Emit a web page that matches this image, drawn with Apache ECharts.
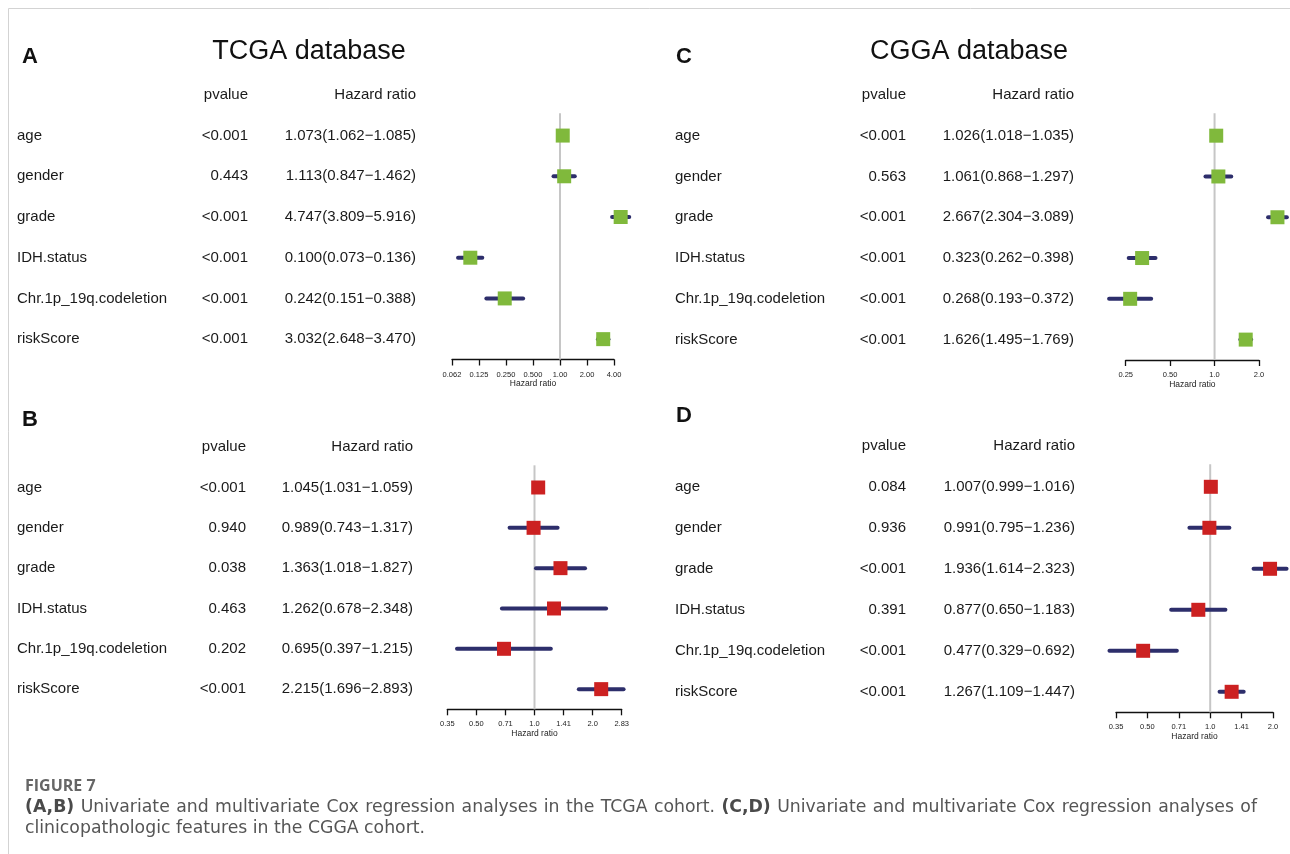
<!DOCTYPE html>
<html>
<head>
<meta charset="utf-8">
<script src="https://cdn.jsdelivr.net/npm/echarts@6/dist/echarts.min.js"></script>
<style>
html,body{margin:0;padding:0;background:#fff;}
#c{width:1290px;height:854px;}
</style>
</head>
<body>
<div id="c"></div>
<script>
// ---------- DATA ----------
const varNames = ['age', 'gender', 'grade', 'IDH.status', 'Chr.1p_19q.codeletion', 'riskScore'];

// A: TCGA univariate
const tcgaUniP    = ['<0.001', '0.443', '<0.001', '<0.001', '<0.001', '<0.001'];
const tcgaUniHR   = [1.073, 1.113, 4.747, 0.100, 0.242, 3.032];
const tcgaUniLow  = [1.062, 0.847, 3.809, 0.073, 0.151, 2.648];
const tcgaUniHigh = [1.085, 1.462, 5.916, 0.136, 0.388, 3.470];
const tcgaUniTicks = [0.0625, 0.125, 0.25, 0.5, 1, 2, 4];
const tcgaUniTickLabels = ['0.062', '0.125', '0.250', '0.500', '1.00', '2.00', '4.00'];

// B: TCGA multivariate
const tcgaMultiP    = ['<0.001', '0.940', '0.038', '0.463', '0.202', '<0.001'];
const tcgaMultiHR   = [1.045, 0.989, 1.363, 1.262, 0.695, 2.215];
const tcgaMultiLow  = [1.031, 0.743, 1.018, 0.678, 0.397, 1.696];
const tcgaMultiHigh = [1.059, 1.317, 1.827, 2.348, 1.215, 2.893];
const tcgaMultiTicks = [0.35355, 0.5, 0.70711, 1, 1.41421, 2, 2.82843];
const tcgaMultiTickLabels = ['0.35', '0.50', '0.71', '1.0', '1.41', '2.0', '2.83'];

// C: CGGA univariate
const cggaUniP    = ['<0.001', '0.563', '<0.001', '<0.001', '<0.001', '<0.001'];
const cggaUniHR   = [1.026, 1.061, 2.667, 0.323, 0.268, 1.626];
const cggaUniLow  = [1.018, 0.868, 2.304, 0.262, 0.193, 1.495];
const cggaUniHigh = [1.035, 1.297, 3.089, 0.398, 0.372, 1.769];
const cggaUniTicks = [0.25, 0.5, 1, 2];
const cggaUniTickLabels = ['0.25', '0.50', '1.0', '2.0'];

// D: CGGA multivariate
const cggaMultiP    = ['0.084', '0.936', '<0.001', '0.391', '<0.001', '<0.001'];
const cggaMultiHR   = [1.007, 0.991, 1.936, 0.877, 0.477, 1.267];
const cggaMultiLow  = [0.999, 0.795, 1.614, 0.650, 0.329, 1.109];
const cggaMultiHigh = [1.016, 1.236, 2.323, 1.183, 0.692, 1.447];
const cggaMultiTicks = [0.35355, 0.5, 0.70711, 1, 1.41421, 2];
const cggaMultiTickLabels = ['0.35', '0.50', '0.71', '1.0', '1.41', '2.0'];

const panelLetters = ['A', 'B', 'C', 'D'];
const panelTitles = ['TCGA database', 'CGGA database'];
const headerP = 'pvalue';
const headerHR = 'Hazard ratio';
const axisName = 'Hazard ratio';
const figureLabel = 'FIGURE 7';
const captionLine1 = ['(A,B)', 'Univariate', 'and', 'multivariate', 'Cox', 'regression', 'analyses', 'in', 'the', 'TCGA', 'cohort.', '(C,D)', 'Univariate', 'and', 'multivariate', 'Cox', 'regression', 'analyses', 'of'];
const captionBoldWords = ['(A,B)', '(C,D)'];
const captionLine2 = 'clinicopathologic features in the CGGA cohort.';

// ---------- STYLE / LAYOUT ----------
const FONT = '"Liberation Sans", Arial, sans-serif';
const CAPFONT = '"DejaVu Sans", sans-serif';
const CAPSIZE = 17.3;
const GREEN = '#80b93c';
const RED = '#cc2121';
const NAVY = '#2d2e6b';
const REFC = '#c6c6c6';

const panels = [
  { hr: tcgaUniHR, low: tcgaUniLow, high: tcgaUniHigh, p: tcgaUniP, ticks: tcgaUniTicks, tickLabels: tcgaUniTickLabels, color: GREEN,
    grid: { left: 452, top: 74.5, width: 162, height: 285 }, mName: 435, mP: 204, mHR: 36 },
  { hr: tcgaMultiHR, low: tcgaMultiLow, high: tcgaMultiHigh, p: tcgaMultiP, ticks: tcgaMultiTicks, tickLabels: tcgaMultiTickLabels, color: RED,
    grid: { left: 447.3, top: 427, width: 174.4, height: 282.3 }, mName: 430.3, mP: 201.3, mHR: 34.3 },
  { hr: cggaUniHR, low: cggaUniLow, high: cggaUniHigh, p: cggaUniP, ticks: cggaUniTicks, tickLabels: cggaUniTickLabels, color: GREEN,
    grid: { left: 1125.7, top: 74.5, width: 133.3, height: 285.5 }, mName: 450.7, mP: 219.7, mHR: 51.7 },
  { hr: cggaMultiHR, low: cggaMultiLow, high: cggaMultiHigh, p: cggaMultiP, ticks: cggaMultiTicks, tickLabels: cggaMultiTickLabels, color: RED,
    grid: { left: 1116, top: 425.3, width: 157, height: 287 }, mName: 441, mP: 210, mHR: 41 }
];

const cats = [''].concat(varNames);
const fmt3 = v => v.toFixed(3);

const grids = [], xAxes = [], yAxes = [], series = [];

panels.forEach((pn, i) => {
  grids.push(Object.assign({ containLabel: false, outerBoundsMode: 'none' }, pn.grid));
  const lbl = v => {
    const k = pn.ticks.findIndex(t => Math.abs(t - v) / t < 1e-3);
    return k >= 0 ? pn.tickLabels[k] : '';
  };
  xAxes.push({
    gridIndex: i, type: 'log', logBase: 2,
    min: pn.ticks[0], max: pn.ticks[pn.ticks.length - 1],
    axisLine: { show: true, onZero: false, lineStyle: { color: '#111', width: 1.3 } },
    axisTick: { show: true, customValues: pn.ticks, length: 6, lineStyle: { color: '#111', width: 1.3 } },
    minorTick: { show: false },
    axisLabel: { customValues: pn.ticks, formatter: lbl, fontSize: 7.5, margin: 11, color: '#222', fontFamily: FONT, hideOverlap: false },
    splitLine: { show: false },
    name: axisName, nameLocation: 'middle', nameGap: 20,
    nameTextStyle: { fontSize: 8.5, color: '#222', fontFamily: FONT }
  });
  const yBase = { gridIndex: i, type: 'category', data: cats, inverse: true, position: 'left', offset: 0,
    axisLine: { show: false }, axisTick: { show: false }, splitLine: { show: false } };
  const lblStyle = { fontSize: 15, color: '#1a1a1a', fontFamily: FONT, interval: 0, hideOverlap: false };
  yAxes.push(Object.assign({}, yBase, {
    axisLabel: Object.assign({}, lblStyle, { margin: pn.mName, align: 'left', formatter: v => v })
  }));
  yAxes.push(Object.assign({}, yBase, {
    axisLabel: Object.assign({}, lblStyle, { margin: pn.mP, align: 'right',
      formatter: (v, idx) => idx === 0 ? headerP : pn.p[idx - 1] })
  }));
  yAxes.push(Object.assign({}, yBase, {
    axisLabel: Object.assign({}, lblStyle, { margin: pn.mHR, align: 'right',
      formatter: (v, idx) => idx === 0 ? headerHR : fmt3(pn.hr[idx - 1]) + '(' + fmt3(pn.low[idx - 1]) + '\u2212' + fmt3(pn.high[idx - 1]) + ')' })
  }));
  const yi = 3 * i;
  // reference line at HR = 1
  series.push({
    type: 'custom', xAxisIndex: i, yAxisIndex: yi, silent: true, z: 1, clip: false,
    data: [[1, varNames[0]]], encode: { x: 0, y: 1 },
    renderItem: (params, api) => {
      const cs = params.coordSys;
      const x = api.coord([api.value(0), api.value(1)])[0];
      const band = cs.height / cats.length;
      return { type: 'line', shape: { x1: x, y1: cs.y + band * 0.95, x2: x, y2: cs.y + cs.height },
        style: { stroke: REFC, lineWidth: 2 } };
    }
  });
  // confidence intervals
  series.push({
    type: 'custom', xAxisIndex: i, yAxisIndex: yi, silent: true, z: 2, clip: false,
    data: varNames.map((n, k) => [pn.low[k], pn.high[k], n]), encode: { x: [0, 1], y: 2 },
    renderItem: (params, api) => {
      const a = api.coord([api.value(0), api.value(2)]);
      const b = api.coord([api.value(1), api.value(2)]);
      return { type: 'line', shape: { x1: a[0], y1: a[1], x2: b[0], y2: b[1] },
        style: { stroke: NAVY, lineWidth: 4, lineCap: 'round' } };
    }
  });
  // point estimates
  series.push({
    type: 'scatter', xAxisIndex: i, yAxisIndex: yi, silent: true, z: 3, clip: false,
    symbol: 'rect', symbolSize: 14,
    data: varNames.map((n, k) => [pn.hr[k], n]),
    itemStyle: { color: pn.color, opacity: 1 }
  });
});

// first caption line: words laid out across the text block width (justified)
const capLeft = 25, capRight = 1257;
const mctx = document.createElement('canvas').getContext('2d');
const wordWidth = w => {
  mctx.font = (captionBoldWords.indexOf(w) >= 0 ? 'bold ' : '') + CAPSIZE + 'px ' + CAPFONT;
  return mctx.measureText(w).width;
};
const widths = captionLine1.map(wordWidth);
const totalW = widths.reduce((s, v) => s + v, 0);
const gap = Math.max(3, (capRight - capLeft - totalW) / (captionLine1.length - 1));
const capWords = [];
let cx = capLeft;
captionLine1.forEach((w, k) => {
  const bold = captionBoldWords.indexOf(w) >= 0;
  capWords.push({ type: 'text', x: cx, y: 808, silent: true,
    style: { text: w, font: (bold ? 'bold ' : '') + CAPSIZE + 'px ' + CAPFONT, fill: bold ? '#4a4a4a' : '#555', verticalAlign: 'middle' } });
  cx += widths[k] + gap;
});

const graphic = [
  { type: 'rect', silent: true, z: -1, shape: { x: 8.5, y: 8.5, width: 1400, height: 1000 },
    style: { fill: 'none', stroke: '#d3d3d3', lineWidth: 1 } },
  { type: 'text', x: 22, y: 57, style: { text: panelLetters[0], font: 'bold 22px ' + FONT, fill: '#111', verticalAlign: 'middle' } },
  { type: 'text', x: 22, y: 420, style: { text: panelLetters[1], font: 'bold 22px ' + FONT, fill: '#111', verticalAlign: 'middle' } },
  { type: 'text', x: 676, y: 57, style: { text: panelLetters[2], font: 'bold 22px ' + FONT, fill: '#111', verticalAlign: 'middle' } },
  { type: 'text', x: 676, y: 416, style: { text: panelLetters[3], font: 'bold 22px ' + FONT, fill: '#111', verticalAlign: 'middle' } },
  { type: 'text', x: 309, y: 52, style: { text: panelTitles[0], font: '27px ' + FONT, fill: '#111', align: 'center', verticalAlign: 'middle' } },
  { type: 'text', x: 969, y: 52, style: { text: panelTitles[1], font: '27px ' + FONT, fill: '#111', align: 'center', verticalAlign: 'middle' } },
  { type: 'text', x: 25, y: 786, style: { text: figureLabel, font: 'bold 16px "Open Sans", sans-serif', fill: '#666', verticalAlign: 'middle' } },
  { type: 'text', x: 25, y: 829, style: { text: captionLine2, font: CAPSIZE + 'px ' + CAPFONT, fill: '#555', verticalAlign: 'middle' } }
].concat(capWords);

const chart = echarts.init(document.getElementById('c'), null, { renderer: 'canvas' });
chart.setOption({
  animation: false,
  backgroundColor: '#fff',
  grid: grids, xAxis: xAxes, yAxis: yAxes, series: series, graphic: graphic
});
</script>
</body>
</html>
